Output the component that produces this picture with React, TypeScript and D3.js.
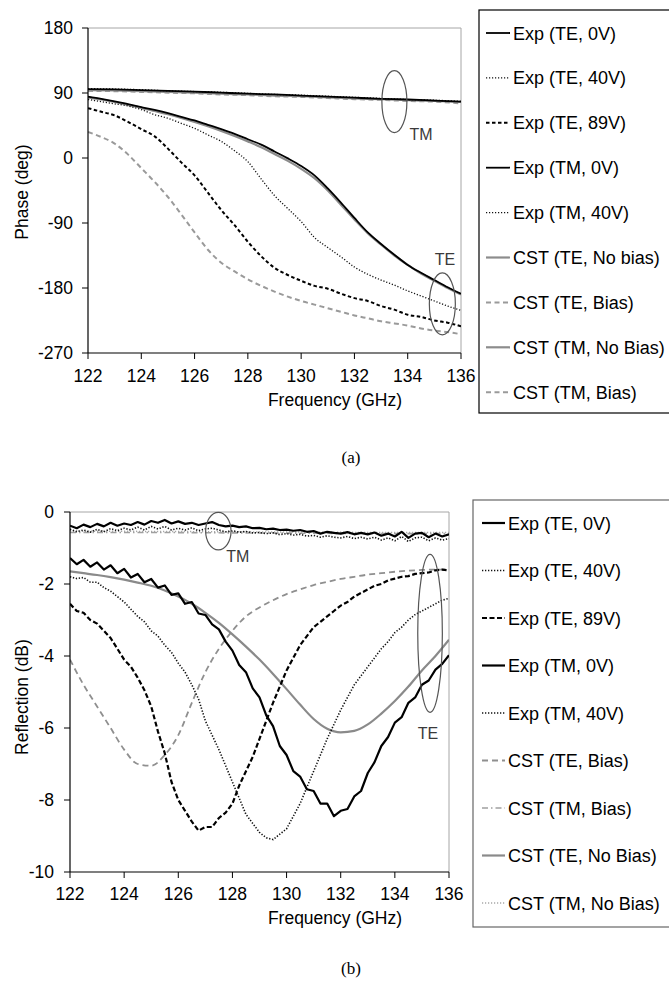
import React from "react";
import * as d3 from "d3";

// ---------------- DATA ----------------
const PH_F = [122,122.5,123,123.5,124,124.5,125,125.5,126,126.5,127,127.5,128,128.5,129,129.5,130,130.5,131,131.5,132,132.5,133,133.5,134,134.5,135,135.5,136];
const PH_F1 = [122,123,124,125,126,127,128,129,130,131,132,133,134,135,136];
const PH_TICKS_Y = [180, 90, 0, -90, -180, -270];
const X_TICKS = [122, 124, 126, 128, 130, 132, 134, 136];

const PH_EXP_TE_0V = [85,82,78.5,74.5,70.5,66.5,62,57,52,46,40,33.5,26,18.5,9,-0.5,-11,-24,-42,-62,-83,-103,-119,-134,-148,-159,-169,-179,-188];
const PH_EXP_TE_40V = [81,78,75,72,67,60,55,48,41,32,23,10,-5,-29,-52,-70,-88,-110,-124,-137,-151,-161,-169,-176,-184,-191,-198,-205,-211];
const PH_EXP_TE_89V = [69,64,59,50,40,30,13,-6,-24,-48,-72,-93,-116,-136,-152,-162,-170,-177,-181,-188,-194,-198,-205,-210,-217,-220,-225,-228,-233];
const PH_EXP_TM_0V = [95.5,95,94,93,92,90.5,89,88,86.5,85,83.5,82,81,79.5,78];
const PH_EXP_TM_40V = [96,95.5,94.5,93,92,91,89.5,88,87,85.5,84,82.5,81,80,78.5];
const PH_CST_TE_NB = [84,81,77.5,73.5,69.5,65,60.5,55.5,50,44,37.5,30.5,23,15,5.5,-4,-15,-28,-45,-65,-85,-104,-120,-135,-148,-160,-170,-180,-189];
const PH_CST_TE_B = [36,29,20,5,-14,-33,-54,-78,-103,-127,-145,-157,-168,-177,-185,-192,-198,-203,-208,-213,-218,-222,-226,-229,-232,-236,-239,-241,-244];
const PH_CST_TM_NB = [94,93.5,92.5,91.5,90.5,89,88,86.5,85.5,84,82.5,81.5,80,79,77.5];
const PH_CST_TM_B = [93,92.5,91.5,90.5,89.5,88,87,85.5,84.5,83,81.5,80.5,79,78,75.5];

const RF_FQ = [122,122.25,122.5,122.75,123,123.25,123.5,123.75,124,124.25,124.5,124.75,125,125.25,125.5,125.75,126,126.25,126.5,126.75,127,127.25,127.5,127.75,128,128.25,128.5,128.75,129,129.25,129.5,129.75,130,130.25,130.5,130.75,131,131.25,131.5,131.75,132,132.25,132.5,132.75,133,133.25,133.5,133.75,134,134.25,134.5,134.75,135,135.25,135.5,135.75,136];
const RF_FH = [122,122.5,123,123.5,124,124.5,125,125.5,126,126.5,127,127.5,128,128.5,129,129.5,130,130.5,131,131.5,132,132.5,133,133.5,134,134.5,135,135.5,136];
const RF_FS = [122,125,128,131,134,136];
const RF_TICKS_Y = [0, -2, -4, -6, -8, -10];

const RF_EXP_TE_0V = [-1.28,-1.45,-1.33,-1.52,-1.4,-1.6,-1.48,-1.7,-1.58,-1.82,-1.72,-1.95,-1.86,-2.1,-2.04,-2.3,-2.26,-2.55,-2.5,-2.82,-2.86,-3.12,-3.26,-3.6,-3.85,-4.25,-4.45,-4.9,-5.15,-5.65,-5.95,-6.5,-6.75,-7.2,-7.35,-7.7,-7.75,-8.1,-8.1,-8.45,-8.3,-8.25,-7.9,-7.75,-7.25,-6.95,-6.5,-6.25,-5.85,-5.7,-5.3,-5.15,-4.8,-4.68,-4.38,-4.22,-3.98];
const RF_EXP_TE_40V = [-1.8,-1.85,-1.82,-1.95,-1.95,-2.1,-2.2,-2.35,-2.5,-2.7,-2.9,-3.05,-3.3,-3.45,-3.7,-3.9,-4.2,-4.45,-4.8,-5.2,-5.8,-6.2,-6.6,-7.05,-7.5,-7.95,-8.4,-8.65,-8.9,-9.05,-9.1,-8.95,-8.8,-8.45,-8.1,-7.65,-7.2,-6.75,-6.3,-5.9,-5.5,-5.15,-4.8,-4.55,-4.3,-4.05,-3.8,-3.6,-3.35,-3.2,-3.0,-2.85,-2.75,-2.65,-2.55,-2.45,-2.4];
const RF_EXP_TE_89V = [-2.55,-2.75,-2.8,-3.0,-3.1,-3.3,-3.5,-3.8,-4.1,-4.3,-4.6,-4.95,-5.4,-6.1,-6.7,-7.5,-8.0,-8.3,-8.6,-8.85,-8.75,-8.75,-8.5,-8.35,-8.1,-7.6,-7.2,-6.8,-6.3,-5.8,-5.3,-4.85,-4.4,-4.05,-3.7,-3.45,-3.2,-3.05,-2.9,-2.75,-2.6,-2.5,-2.35,-2.25,-2.15,-2.05,-2.0,-1.9,-1.85,-1.8,-1.78,-1.72,-1.7,-1.68,-1.62,-1.6,-1.62];
const RF_EXP_TM_0V = [-0.38,-0.45,-0.35,-0.42,-0.33,-0.4,-0.3,-0.38,-0.32,-0.36,-0.28,-0.35,-0.25,-0.3,-0.22,-0.32,-0.26,-0.33,-0.3,-0.36,-0.32,-0.28,-0.36,-0.4,-0.38,-0.42,-0.4,-0.45,-0.44,-0.48,-0.46,-0.5,-0.49,-0.52,-0.5,-0.55,-0.53,-0.6,-0.55,-0.58,-0.6,-0.56,-0.62,-0.58,-0.62,-0.57,-0.66,-0.6,-0.68,-0.55,-0.72,-0.6,-0.58,-0.7,-0.6,-0.68,-0.62];
const RF_EXP_TM_40V = [-0.48,-0.55,-0.5,-0.56,-0.48,-0.55,-0.46,-0.52,-0.45,-0.5,-0.42,-0.5,-0.4,-0.47,-0.4,-0.5,-0.45,-0.5,-0.44,-0.52,-0.47,-0.45,-0.5,-0.55,-0.52,-0.56,-0.54,-0.58,-0.57,-0.6,-0.58,-0.63,-0.6,-0.64,-0.62,-0.67,-0.65,-0.7,-0.66,-0.7,-0.72,-0.68,-0.74,-0.7,-0.75,-0.7,-0.78,-0.72,-0.8,-0.68,-0.82,-0.72,-0.7,-0.8,-0.72,-0.78,-0.74];
const RF_CST_TE_B = [-4.1,-4.8,-5.4,-6.0,-6.6,-7.0,-7.05,-6.75,-6.2,-5.3,-4.45,-3.8,-3.3,-2.9,-2.65,-2.45,-2.28,-2.15,-2.03,-1.94,-1.86,-1.8,-1.74,-1.7,-1.66,-1.63,-1.61,-1.6,-1.6];
const RF_CST_TE_NB = [-1.65,-1.7,-1.75,-1.81,-1.88,-1.96,-2.05,-2.18,-2.35,-2.55,-2.8,-3.08,-3.4,-3.74,-4.1,-4.5,-4.92,-5.35,-5.75,-6.02,-6.12,-6.08,-5.9,-5.6,-5.25,-4.85,-4.4,-4.0,-3.55];
const RF_CST_TM_B = [-0.57,-0.57,-0.58,-0.59,-0.6,-0.6];
const RF_CST_TM_NB = [-0.53,-0.54,-0.55,-0.56,-0.57,-0.57];

const PH_LEGEND = ["Exp (TE, 0V)", "Exp (TE, 40V)", "Exp (TE, 89V)", "Exp (TM, 0V)", "Exp (TM, 40V)", "CST (TE, No bias)", "CST (TE, Bias)", "CST (TM, No Bias)", "CST (TM, Bias)"];
const RF_LEGEND = ["Exp (TE, 0V)", "Exp (TE, 40V)", "Exp (TE, 89V)", "Exp (TM, 0V)", "Exp (TM, 40V)", "CST (TE, Bias)", "CST (TM, Bias)", "CST (TE, No Bias)", "CST (TM, No Bias)"];

// ---------------- STYLES ----------------
type LS = { stroke: string; width: number; dash?: string };
const SANS = "'Liberation Sans', Arial, sans-serif";
const SERIF = "'Liberation Serif', 'Times New Roman', serif";

const P_BLACK_SOLID: LS = { stroke: "#000", width: 1.8 };
const P_BLACK_DOT: LS = { stroke: "#111", width: 1.3, dash: "1.2,1.8" };
const P_BLACK_DASH: LS = { stroke: "#000", width: 2, dash: "3.5,2.5" };
const P_GRAY_SOLID: LS = { stroke: "#8c8c8c", width: 2.2 };
const P_GRAY_DASH: LS = { stroke: "#9a9a9a", width: 2, dash: "5,3.5" };

const R_BLACK_SOLID: LS = { stroke: "#000", width: 2.2 };
const R_BLACK_DOT: LS = { stroke: "#111", width: 1.6, dash: "1.3,1.7" };
const R_BLACK_DASH: LS = { stroke: "#000", width: 2.2, dash: "5,2.5" };
const R_GRAY_SOLID: LS = { stroke: "#8a8a8a", width: 2.2 };
const R_GRAY_DASH: LS = { stroke: "#8f8f8f", width: 1.8, dash: "6,4" };
const R_GRAY_DASHDOT: LS = { stroke: "#a0a0a0", width: 1.6, dash: "6,3,1.5,3" };
const R_GRAY_DOT: LS = { stroke: "#a8a8a8", width: 1.5, dash: "1.2,1.8" };

type Series = { x: number[]; y: number[]; st: LS; smooth: boolean };

type PanelProps = {
  left: number; right: number; top: number; bottom: number;
  yDomain: [number, number]; yTicks: number[];
  yLabel: string; yLabelY: number;
  series: Series[];
  legendNames: string[]; legendStyles: LS[];
  legendBox: { x: number; y: number; h: number; first: number; step: number; lx1: number; lx2: number; tx: number; stroke: string };
  ellipses: { f: number; v: number; rx: number; ry: number }[];
  labels: { f: number; v: number; t: string }[];
  tickLabelY: number; xTitleY: number; caption: string; captionY: number;
  yTickEnd: number;
  clipId: string;
};

function Panel(p: PanelProps) {
  const x = d3.scaleLinear().domain([122, 136]).range([p.left, p.right]);
  const y = d3.scaleLinear().domain(p.yDomain).range([p.bottom, p.top]);
  const lb = p.legendBox;
  return (
    <g>
      <defs>
        <clipPath id={p.clipId}>
          <rect x={p.left} y={p.top - 1} width={p.right - p.left} height={p.bottom - p.top + 2} />
        </clipPath>
      </defs>
      <line x1={p.left} x2={p.right} y1={p.top} y2={p.top} stroke="#a6a6a6" strokeWidth={1} />
      <line x1={p.right} x2={p.right} y1={p.top} y2={p.bottom} stroke="#a6a6a6" strokeWidth={1} />
      <g clipPath={`url(#${p.clipId})`}>
        {p.series.map((s, i) => {
          const pts = s.x.map((xv, k) => [xv, s.y[k]] as [number, number]);
          const line = d3.line<[number, number]>()
            .x((d) => x(d[0]))
            .y((d) => y(d[1]))
            .curve(s.smooth ? d3.curveMonotoneX : d3.curveLinear);
          return (
            <path key={i} d={line(pts) || ""} fill="none" stroke={s.st.stroke}
              strokeWidth={s.st.width} strokeDasharray={s.st.dash} strokeLinejoin="round" />
          );
        })}
      </g>
      <line x1={p.left} x2={p.left} y1={p.top} y2={p.bottom} stroke="#000" strokeWidth={1.2} />
      <line x1={p.left} x2={p.right} y1={p.bottom} y2={p.bottom} stroke="#000" strokeWidth={1.2} />
      {p.yTicks.map((t) => (
        <g key={"y" + t}>
          <line x1={p.left - 6} x2={p.left} y1={y(t)} y2={y(t)} stroke="#000" strokeWidth={1} />
          <text x={p.yTickEnd} y={y(t) + 6} textAnchor="end" fontSize={17.5} fontFamily={SANS} fill="#000">{t}</text>
        </g>
      ))}
      {X_TICKS.map((t) => (
        <g key={"x" + t}>
          <line x1={x(t)} x2={x(t)} y1={p.bottom} y2={p.bottom + 6} stroke="#000" strokeWidth={1} />
          <text x={x(t)} y={p.tickLabelY} textAnchor="middle" fontSize={17.5} fontFamily={SANS} fill="#000">{t}</text>
        </g>
      ))}
      <text x={335} y={p.xTitleY} textAnchor="middle" fontSize={17.5} fontFamily={SANS} fill="#000">Frequency (GHz)</text>
      <text transform={`translate(28,${p.yLabelY}) rotate(-90)`} textAnchor="middle" fontSize={17.5} fontFamily={SANS} fill="#000">{p.yLabel}</text>
      {p.ellipses.map((e, i) => (
        <ellipse key={"e" + i} cx={x(e.f)} cy={y(e.v)} rx={e.rx} ry={e.ry} fill="none" stroke="#555" strokeWidth={1.2} />
      ))}
      {p.labels.map((l, i) => (
        <text key={"l" + i} x={x(l.f)} y={y(l.v)} textAnchor="middle" fontSize={16} fontFamily={SANS} fill="#3a3a3a">{l.t}</text>
      ))}
      <rect x={lb.x} y={lb.y} width={700 - lb.x} height={lb.h} fill="#fff" stroke={lb.stroke} strokeWidth={1.2} />
      {p.legendNames.map((n, i) => {
        const cy = lb.first + i * lb.step;
        const st = p.legendStyles[i];
        return (
          <g key={"lg" + i}>
            <line x1={lb.lx1} x2={lb.lx2} y1={cy} y2={cy} stroke={st.stroke} strokeWidth={st.width} strokeDasharray={st.dash} />
            <text x={lb.tx} y={cy + 6.5} fontSize={18} fontFamily={SANS} fill="#000">{n}</text>
          </g>
        );
      })}
      <text x={351} y={p.captionY} textAnchor="middle" fontSize={17} fontFamily={SERIF} fill="#000">{p.caption}</text>
    </g>
  );
}

export default function App() {
  const phaseSeries: Series[] = [
    { x: PH_F, y: PH_CST_TE_B, st: P_GRAY_DASH, smooth: true },
    { x: PH_F1, y: PH_CST_TM_B, st: P_GRAY_DASH, smooth: true },
    { x: PH_F1, y: PH_CST_TM_NB, st: P_GRAY_SOLID, smooth: true },
    { x: PH_F, y: PH_CST_TE_NB, st: P_GRAY_SOLID, smooth: true },
    { x: PH_F, y: PH_EXP_TE_89V, st: P_BLACK_DASH, smooth: true },
    { x: PH_F, y: PH_EXP_TE_40V, st: P_BLACK_DOT, smooth: true },
    { x: PH_F1, y: PH_EXP_TM_40V, st: P_BLACK_DOT, smooth: true },
    { x: PH_F1, y: PH_EXP_TM_0V, st: P_BLACK_SOLID, smooth: true },
    { x: PH_F, y: PH_EXP_TE_0V, st: P_BLACK_SOLID, smooth: true },
  ];
  const phaseLegendStyles = [P_BLACK_SOLID, P_BLACK_DOT, P_BLACK_DASH, P_BLACK_SOLID, P_BLACK_DOT, P_GRAY_SOLID, P_GRAY_DASH, P_GRAY_SOLID, P_GRAY_DASH];

  const reflSeries: Series[] = [
    { x: RF_FS, y: RF_CST_TM_NB, st: R_GRAY_DOT, smooth: true },
    { x: RF_FS, y: RF_CST_TM_B, st: R_GRAY_DASHDOT, smooth: true },
    { x: RF_FH, y: RF_CST_TE_B, st: R_GRAY_DASH, smooth: true },
    { x: RF_FH, y: RF_CST_TE_NB, st: R_GRAY_SOLID, smooth: true },
    { x: RF_FQ, y: RF_EXP_TM_40V, st: R_BLACK_DOT, smooth: false },
    { x: RF_FQ, y: RF_EXP_TM_0V, st: R_BLACK_SOLID, smooth: false },
    { x: RF_FQ, y: RF_EXP_TE_89V, st: R_BLACK_DASH, smooth: false },
    { x: RF_FQ, y: RF_EXP_TE_40V, st: R_BLACK_DOT, smooth: false },
    { x: RF_FQ, y: RF_EXP_TE_0V, st: R_BLACK_SOLID, smooth: false },
  ];
  const reflLegendStyles = [R_BLACK_SOLID, R_BLACK_DOT, R_BLACK_DASH, R_BLACK_SOLID, R_BLACK_DOT, R_GRAY_DASH, R_GRAY_DASHDOT, R_GRAY_SOLID, R_GRAY_DOT];

  return (
    <svg width={669} height={986} viewBox="0 0 669 986"
      style={{ position: "absolute", left: 0, top: 0, background: "#fff" }}>
      <rect x={0} y={0} width={669} height={986} fill="#fff" />
      <Panel
        left={88} right={461} top={28} bottom={353}
        yDomain={[-270, 180]} yTicks={PH_TICKS_Y}
        yLabel="Phase  (deg)" yLabelY={192}
        series={phaseSeries}
        legendNames={PH_LEGEND} legendStyles={phaseLegendStyles}
        legendBox={{ x: 479, y: 10, h: 403, first: 33, step: 44.9, lx1: 486, lx2: 510, tx: 513, stroke: "#000" }}
        ellipses={[{ f: 133.5, v: 78, rx: 12.5, ry: 31 }, { f: 135.3, v: -202, rx: 13, ry: 31 }]}
        labels={[{ f: 134.5, v: 25, t: "TM" }, { f: 135.4, v: -148, t: "TE" }]}
        tickLabelY={382} xTitleY={406} caption="(a)" captionY={463}
        yTickEnd={73} clipId="clipA"
      />
      <Panel
        left={70} right={449} top={512} bottom={872}
        yDomain={[-10, 0]} yTicks={RF_TICKS_Y}
        yLabel="Reflection (dB)" yLabelY={697}
        series={reflSeries}
        legendNames={RF_LEGEND} legendStyles={reflLegendStyles}
        legendBox={{ x: 473, y: 500, h: 427, first: 523, step: 47.5, lx1: 482, lx2: 505, tx: 508, stroke: "#666" }}
        ellipses={[{ f: 127.48, v: -0.53, rx: 12.7, ry: 18.7 }, { f: 135.3, v: -3.37, rx: 12.3, ry: 79 }]}
        labels={[{ f: 128.2, v: -1.39, t: "TM" }, { f: 135.22, v: -6.3, t: "TE" }]}
        tickLabelY={900} xTitleY={924} caption="(b)" captionY={974}
        yTickEnd={54} clipId="clipB"
      />
    </svg>
  );
}
